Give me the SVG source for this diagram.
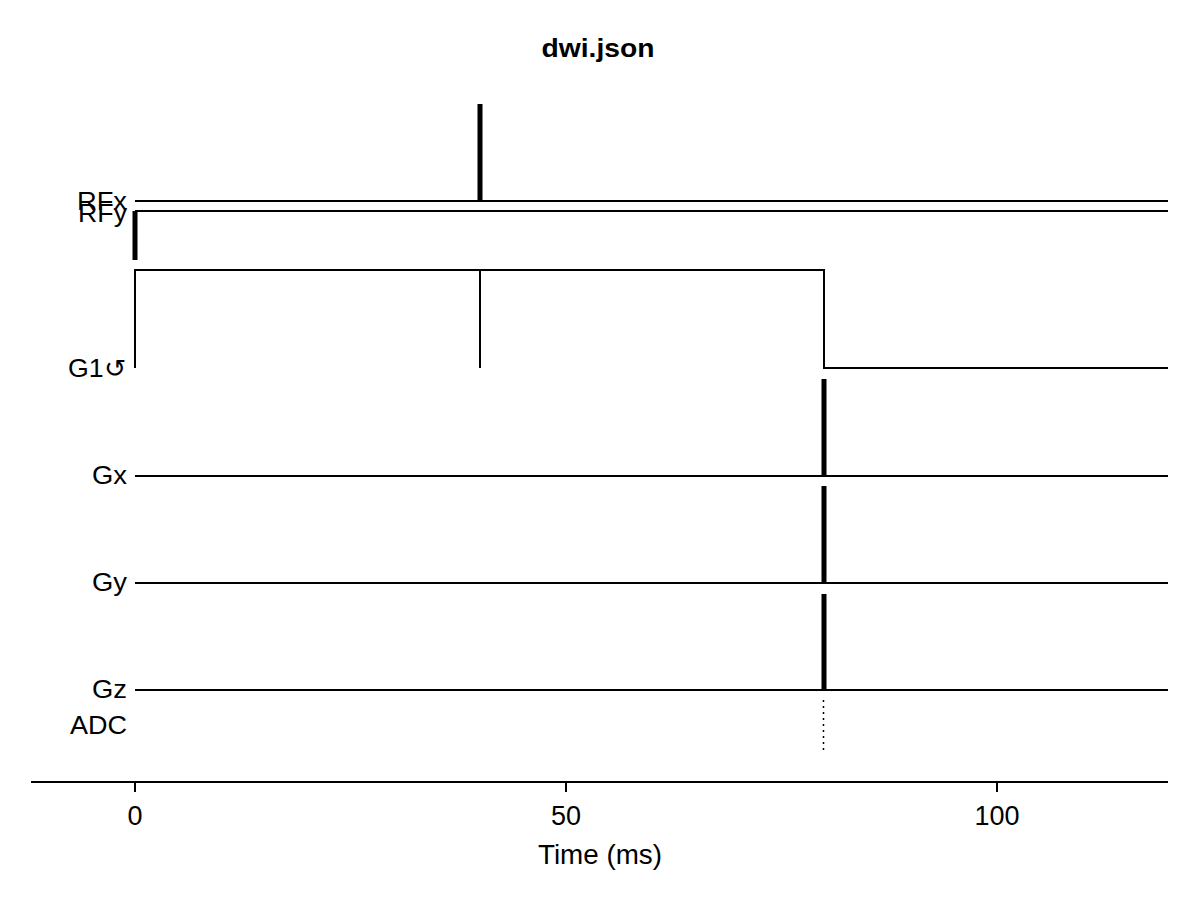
<svg xmlns="http://www.w3.org/2000/svg" width="1200" height="900" viewBox="0 0 1200 900">
<style>
text{font-family:"Liberation Sans",Arial,sans-serif;font-size:25px;fill:#000}
.lbl{text-anchor:end}
.tick{text-anchor:middle;font-size:27px}
.base{stroke:#000;stroke-width:2;fill:none}
.pulse{stroke:#000;stroke-width:5;fill:none}
</style>
<rect width="1200" height="900" fill="#fff"/>
<text x="598" y="57" text-anchor="middle" font-weight="bold" font-size="26" textLength="113" lengthAdjust="spacingAndGlyphs">dwi.json</text>
<g id="labels">
<text class="lbl" x="127" y="210" textLength="50" lengthAdjust="spacingAndGlyphs">RFx</text>
<text class="lbl" x="127" y="222" textLength="49" lengthAdjust="spacingAndGlyphs">RFy</text>
<text class="lbl" x="126" y="377" textLength="58" lengthAdjust="spacingAndGlyphs">G1↺</text>
<text class="lbl" x="127" y="484" textLength="35" lengthAdjust="spacingAndGlyphs">Gx</text>
<text class="lbl" x="127" y="591" textLength="35" lengthAdjust="spacingAndGlyphs">Gy</text>
<text class="lbl" x="127" y="698" textLength="35" lengthAdjust="spacingAndGlyphs">Gz</text>
<text class="lbl" x="127" y="734" textLength="57" lengthAdjust="spacingAndGlyphs">ADC</text>
</g>
<g id="connectors">
<g id="RFx">
<line class="base" x1="135" y1="201" x2="1168" y2="201"/>
<line class="pulse" x1="480" y1="104" x2="480" y2="201"/>
</g>
<g id="RFy">
<line class="base" x1="135" y1="211" x2="1168" y2="211"/>
<line class="pulse" x1="135" y1="211" x2="135" y2="260"/>
</g>
<g id="G1">
<polyline class="base" points="135,368 135,270 824,270 824,368 1168,368"/>
<line class="base" x1="480" y1="270" x2="480" y2="368"/>
</g>
<g id="Gx">
<line class="base" x1="135" y1="476" x2="1168" y2="476"/>
<line class="pulse" x1="824" y1="379" x2="824" y2="476"/>
</g>
<g id="Gy">
<line class="base" x1="135" y1="583" x2="1168" y2="583"/>
<line class="pulse" x1="824" y1="486" x2="824" y2="583"/>
</g>
<g id="Gz">
<line class="base" x1="135" y1="690" x2="1168" y2="690"/>
<line class="pulse" x1="824" y1="594" x2="824" y2="690"/>
</g>
<g id="ADC">
<line x1="823.5" y1="700" x2="823.5" y2="750" stroke="#000" stroke-width="1.5" stroke-dasharray="2,4"/>
</g>
</g>
<g id="axis">
<line class="base" x1="31" y1="782" x2="1168" y2="782"/>
<line class="base" x1="135" y1="782" x2="135" y2="792"/>
<line class="base" x1="566" y1="782" x2="566" y2="792"/>
<line class="base" x1="997" y1="782" x2="997" y2="792"/>
<text class="tick" x="135" y="825">0</text>
<text class="tick" x="566" y="825">50</text>
<text class="tick" x="997" y="825">100</text>
<text class="tick" x="600" y="864" textLength="124" lengthAdjust="spacingAndGlyphs">Time (ms)</text>
</g>
</svg>
